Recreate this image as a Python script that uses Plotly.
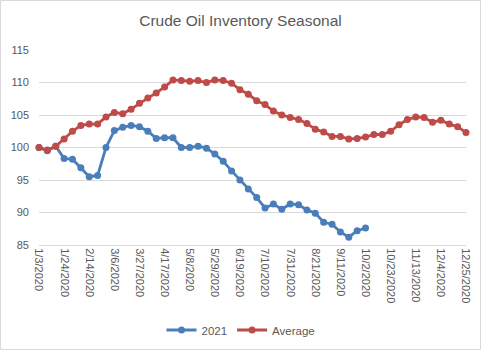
import pandas as pd
import plotly.graph_objects as go

start_date = "2020-01-03"
n_weeks = 52
dates = pd.date_range(start_date, periods=n_weeks, freq="7D")

series_2021 = [100.0, 99.5, 100.2, 98.3, 98.2, 96.9, 95.5, 95.7, 100.0, 102.6,
               103.1, 103.4, 103.2, 102.5, 101.4, 101.5, 101.5, 100.0, 100.0, 100.2,
               99.9, 99.0, 97.9, 96.4, 95.0, 93.6, 92.3, 90.7, 91.3, 90.5,
               91.3, 91.2, 90.4, 89.9, 88.5, 88.2, 87.0, 86.2, 87.2, 87.6]
series_avg = [100.0, 99.6, 100.2, 101.3, 102.5, 103.4, 103.6, 103.6, 104.7, 105.4,
              105.2, 105.9, 106.8, 107.6, 108.4, 109.3, 110.4, 110.3, 110.2, 110.3,
              110.0, 110.4, 110.3, 109.9, 108.9, 108.2, 107.2, 106.6, 105.6, 105.0,
              104.6, 104.3, 103.7, 102.8, 102.4, 101.7, 101.7, 101.3, 101.4, 101.6,
              102.0, 102.0, 102.5, 103.5, 104.3, 104.7, 104.6, 103.9, 104.2, 103.6,
              103.2, 102.3]
tick_dates = dates[::3]
tick_labels = [f"{d.month}/{d.day}/{d.year}" for d in tick_dates]
y_ticks = [85, 90, 95, 100, 105, 110, 115]

W, H = 481, 350
L, R, T, B = 39, 15, 50, 105
pw, ph = W - L - R, H - T - B

fig = go.Figure()
fig.add_trace(go.Scatter(x=dates[:len(series_2021)], y=series_2021, name="2021",
                         mode="lines+markers", cliponaxis=False,
                         line=dict(color="#4A7EBB", width=2.8),
                         marker=dict(color="#4A7EBB", size=7)))
fig.add_trace(go.Scatter(x=dates, y=series_avg, name="Average",
                         mode="lines+markers", cliponaxis=False,
                         line=dict(color="#BE4B48", width=2.8),
                         marker=dict(color="#BE4B48", size=7)))

fig.update_layout(
    width=W, height=H,
    margin=dict(l=L, r=R, t=T, b=B, autoexpand=False),
    paper_bgcolor="white", plot_bgcolor="white",
    font=dict(family="Liberation Sans, Arial, sans-serif", color="#595959", size=11),
    title=dict(text="Crude Oil Inventory Seasonal", x=0.5, xanchor="center",
               y=1 - 21 / H, yanchor="middle",
               font=dict(size=15.5, color="#595959")),
    showlegend=True,
    legend=dict(orientation="h", x=(241 - L) / pw, xanchor="center",
                y=(T + ph - 330) / ph, yanchor="middle",
                font=dict(size=11.5, color="#595959"), itemwidth=30),
    xaxis=dict(type="date", range=[dates[0], dates[-1]],
               tickmode="array", tickvals=list(tick_dates), ticktext=tick_labels,
               tickangle=90, showgrid=False, showline=True, linecolor="#D9D9D9",
               ticks="", zeroline=False, tickfont=dict(size=11), automargin=False),
    yaxis=dict(range=[85, 115], tickmode="array", tickvals=y_ticks,
               gridcolor="#D9D9D9", gridwidth=1, zeroline=False, showline=False,
               ticks="", ticklabelstandoff=9, tickfont=dict(size=11), automargin=False),
    shapes=[dict(type="rect", xref="paper", yref="paper",
                 x0=(0.5 - L) / pw, x1=(W - 0.5 - L) / pw,
                 y0=(T + ph - (H - 0.5)) / ph, y1=(T + ph - 0.5) / ph,
                 line=dict(color="#D9D9D9", width=1), layer="below")],
)

fig.write_html("out.html")
